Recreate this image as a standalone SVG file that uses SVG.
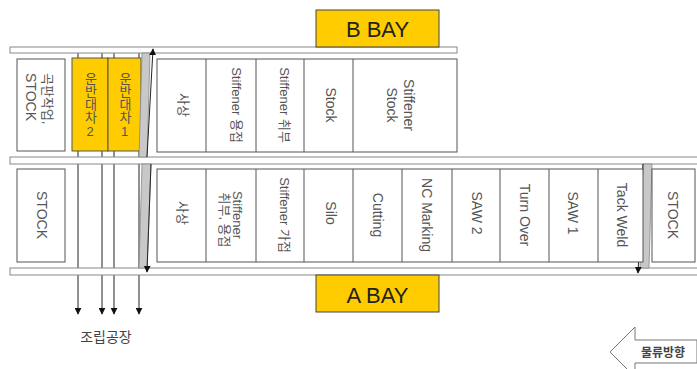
<svg xmlns="http://www.w3.org/2000/svg" width="697" height="369" viewBox="0 0 697 369">
<defs>
<style>
.rail{fill:#fff;stroke:#888;stroke-width:1}
.cell{fill:#fff;stroke:#555;stroke-width:1}
.yel{fill:#FFCC00;stroke:#555;stroke-width:1}
.bay{fill:#FFCC00;stroke:#444;stroke-width:1}
.bar{fill:#c8c8c8;stroke:#888;stroke-width:0.8}
.t{font-family:"Liberation Sans","Noto Sans CJK KR",sans-serif;font-size:14px;fill:#555;text-anchor:middle;dominant-baseline:central}
.k{font-size:13px}
.vt{font-family:"Liberation Sans","Noto Sans CJK KR",sans-serif;font-size:13px;fill:#555;writing-mode:vertical-rl;text-orientation:upright;text-anchor:start}
.yt{font-family:"Liberation Sans","Noto Sans CJK KR",sans-serif;font-size:14px;fill:#444;text-anchor:middle}
.bt{font-family:"Liberation Sans",sans-serif;font-size:22px;fill:#222;text-anchor:middle}
.ln{stroke:#222;stroke-width:1;fill:none}
</style>
<marker id="ah" viewBox="0 0 10 10" refX="9" refY="5" markerWidth="7" markerHeight="7" orient="auto" markerUnits="userSpaceOnUse">
<path d="M0,0 L10,5 L0,10 z" fill="#111"/>
</marker>
</defs>

<g id="connectors">
<line class="ln" x1="78" y1="53" x2="78" y2="314" marker-end="url(#ah)"/>
<line class="ln" x1="102" y1="53" x2="102" y2="314" stroke-width="1.6" marker-end="url(#ah)"/>
<line class="ln" x1="114" y1="53" x2="114" y2="314" marker-end="url(#ah)"/>
<line class="ln" x1="139" y1="53" x2="139" y2="314" marker-end="url(#ah)"/>
</g>

<g id="rails">
<rect class="rail" x="10" y="47" width="447" height="6"/>
<rect class="rail" x="10" y="157" width="690" height="7"/>
<rect class="rail" x="10" y="268" width="690" height="7"/>
</g>

<g id="bay-b">
<rect class="bay" x="316" y="10" width="123" height="37"/>
<text class="bt" x="377.5" y="37">B BAY</text>
</g>
<g id="bay-a">
<rect class="bay" x="316" y="275" width="123" height="37"/>
<text class="bt" x="377.5" y="303">A BAY</text>
</g>

<g id="upper-left-stock">
<rect class="cell" x="17" y="59" width="48" height="92"/>
<text class="t k" transform="translate(47,73) rotate(90)" style="text-anchor:start">곡판작업,</text>
<text class="t" transform="translate(31,73) rotate(90)" style="text-anchor:start">STOCK</text>
</g>

<g id="cart-2">
<rect class="yel" x="72" y="58" width="36" height="93"/>
<text class="vt" x="90" y="72">운반대차2</text>
</g>
<g id="cart-1">
<rect class="yel" x="108" y="58" width="33" height="93"/>
<text class="vt" x="124.5" y="72">운반대차1</text>
</g>

<g id="transfer-bars">
<polygon class="bar" points="142,53 150,53 147,157 139,157"/>
<polygon class="bar" points="142,164 151,164 147,268 139,268"/>
<polygon class="bar" points="643,164 652,164 649,268 640,268"/>
<line class="ln" x1="147" y1="157" x2="153" y2="49" marker-end="url(#ah)"/>
<line class="ln" x1="151" y1="164" x2="147" y2="272" marker-end="url(#ah)"/>
<line class="ln" x1="643" y1="164" x2="638" y2="273" marker-end="url(#ah)"/>
</g>

<g id="upper-block">
<rect class="cell" x="157" y="59" width="300" height="93"/>
<line class="cell" x1="206" y1="59" x2="206" y2="152"/>
<line class="cell" x1="256" y1="59" x2="256" y2="152"/>
<line class="cell" x1="304" y1="59" x2="304" y2="152"/>
<line class="cell" x1="353" y1="59" x2="353" y2="152"/>
<text class="t k" transform="translate(183,105) rotate(90)">사상</text>
<text class="t k" transform="translate(236,105) rotate(90)">Stiffener 용접</text>
<text class="t k" transform="translate(284,105) rotate(90)">Stiffener 취부</text>
<text class="t" transform="translate(331,105) rotate(90)">Stock</text>
<text class="t" transform="translate(409,105) rotate(90)">Stiffener</text>
<text class="t" transform="translate(392,105) rotate(90)">Stock</text>
</g>

<g id="lower-left-stock">
<rect class="cell" x="17" y="169" width="48" height="93"/>
<text class="t" transform="translate(42,215) rotate(90)">STOCK</text>
</g>

<g id="lower-block">
<rect class="cell" x="157" y="169" width="486" height="93"/>
<line class="cell" x1="206" y1="169" x2="206" y2="262"/>
<line class="cell" x1="256" y1="169" x2="256" y2="262"/>
<line class="cell" x1="304" y1="169" x2="304" y2="262"/>
<line class="cell" x1="353" y1="169" x2="353" y2="262"/>
<line class="cell" x1="402" y1="169" x2="402" y2="262"/>
<line class="cell" x1="452" y1="169" x2="452" y2="262"/>
<line class="cell" x1="500" y1="169" x2="500" y2="262"/>
<line class="cell" x1="549" y1="169" x2="549" y2="262"/>
<line class="cell" x1="598" y1="169" x2="598" y2="262"/>
<text class="t k" transform="translate(182,213) rotate(90)">사상</text>
<text class="t k" transform="translate(237,215) rotate(90)">Stiffener</text>
<text class="t k" transform="translate(224,220) rotate(90)">취부, 용접</text>
<text class="t k" transform="translate(284,215) rotate(90)">Stiffener 가접</text>
<text class="t" transform="translate(331,213) rotate(90)">Silo</text>
<text class="t" transform="translate(378,215) rotate(90)">Cutting</text>
<text class="t" transform="translate(427,215) rotate(90)">NC Marking</text>
<text class="t" transform="translate(477,213) rotate(90)">SAW  2</text>
<text class="t" transform="translate(525,215) rotate(90)">Turn Over</text>
<text class="t" transform="translate(573,213) rotate(90)">SAW  1</text>
<text class="t" transform="translate(622,215) rotate(90)">Tack Weld</text>
</g>

<g id="right-stock">
<rect class="cell" x="652" y="169" width="43" height="93"/>
<text class="t" transform="translate(673,215) rotate(90)">STOCK</text>
</g>

<g id="assembly-label">
<text class="yt" x="106" y="342">조립공장</text>
</g>

<g id="flow-arrow">
<polygon points="697,340 635,340 635,327 610,352 635,377 635,363 697,363" fill="#fff" stroke="#777" stroke-width="1"/>
<text x="663" y="356.5" style="font-family:'Liberation Sans','Noto Sans CJK KR',sans-serif;font-size:12px;font-weight:bold;fill:#444;text-anchor:middle">물류방향</text>
</g>
</svg>
